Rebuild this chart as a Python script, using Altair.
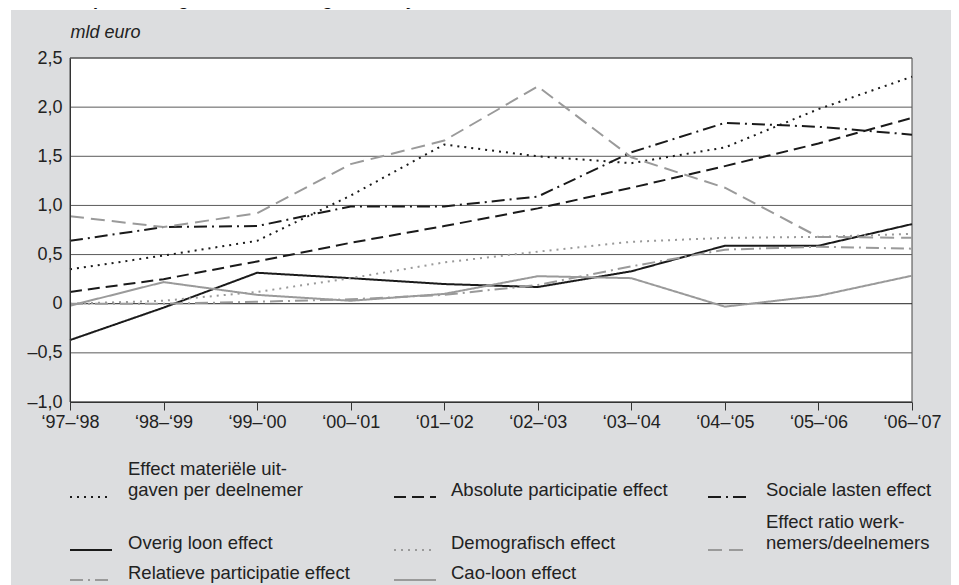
import altair as alt
import pandas as pd

# ---------------- data ----------------
periods = ["‘97–‘98", "‘98–‘99", "‘99–‘00", "‘00–‘01", "‘01–‘02",
           "‘02–‘03", "‘03–‘04", "‘04–‘05", "‘05–‘06", "‘06–‘07"]

series_names = [
    "Effect materiële uitgaven per deelnemer",
    "Absolute participatie effect",
    "Sociale lasten effect",
    "Overig loon effect",
    "Demografisch effect",
    "Effect ratio werknemers/deelnemers",
    "Relatieve participatie effect",
    "Cao-loon effect",
]

materiele = [0.35, 0.49, 0.64, 1.10, 1.62, 1.50, 1.43, 1.59, 1.98, 2.31]
absolute = [0.12, 0.25, 0.43, 0.62, 0.79, 0.97, 1.18, 1.40, 1.63, 1.89]
sociale = [0.64, 0.78, 0.79, 0.99, 0.99, 1.09, 1.54, 1.84, 1.80, 1.72]
overig = [-0.37, -0.04, 0.315, 0.26, 0.20, 0.17, 0.33, 0.59, 0.59, 0.81]
demografisch = [0.0, 0.03, 0.12, 0.26, 0.42, 0.53, 0.63, 0.67, 0.68, 0.71]
effect_ratio = [0.89, 0.78, 0.92, 1.42, 1.66, 2.21, 1.49, 1.18, 0.68, 0.67]
relatieve = [0.0, 0.0, 0.02, 0.045, 0.09, 0.19, 0.38, 0.55, 0.58, 0.56]
cao = [-0.02, 0.22, 0.09, 0.03, 0.10, 0.28, 0.26, -0.03, 0.08, 0.285]

series_values = [materiele, absolute, sociale, overig, demografisch,
                 effect_ratio, relatieve, cao]

legend_labels = [
    ["Effect materiële uit-", "gaven per deelnemer"],
    ["Absolute participatie effect"],
    ["Sociale lasten effect"],
    ["Overig loon effect"],
    ["Demografisch effect"],
    ["Effect ratio werk-", "nemers/deelnemers"],
    ["Relatieve participatie effect"],
    ["Cao-loon effect"],
]

y_ticks = [-1.0, -0.5, 0.0, 0.5, 1.0, 1.5, 2.0, 2.5]
title_text = "1. Decompositie uitgavenverandering onderwijs"
y_unit = "mld euro"

# ---------------- styles ----------------
BLACK = "#1a1a1a"
GRAY = "#9a9a9a"
BG = "#dcdddf"
FONT = "Liberation Sans"

series_colors = [BLACK, BLACK, BLACK, BLACK, GRAY, GRAY, GRAY, GRAY]
series_dashes = [[2, 5], [12, 6], [13, 5, 2, 5], [1, 0],
                 [2, 5], [14, 7], [13, 5, 2, 5], [1, 0]]

W, H = 842, 344

rows = []
for name, vals in zip(series_names, series_values):
    for p, v in zip(periods, vals):
        rows.append({"period": p, "series": name, "value": v})
df = pd.DataFrame(rows)

one = pd.DataFrame({"k": [0]})
yscale = alt.Scale(domain=[-1.0, 2.5], nice=False, zero=False)

label_expr = ("(datum.value < 0 ? '–' : '') + (datum.value == 0 ? '0' : "
              "replace(format(abs(datum.value), '.1f'), '.', ','))")


def y_axis():
    return alt.Axis(values=y_ticks, labelExpr=label_expr, title=y_unit,
                    titleAngle=0, titleAlign="left", titleX=0, titleY=-26,
                    titleBaseline="middle", titleFont=FONT, titleFontSize=18,
                    titleFontStyle="italic", titleFontWeight="normal",
                    titleColor="#222", ticks=False, labelPadding=8,
                    labelFont=FONT, labelFontSize=18, labelColor="#222",
                    grid=False, domainColor="#333", zindex=1)


title_layer = alt.Chart(one).mark_text(
    text=title_text, align="left", baseline="alphabetic", font=FONT,
    fontSize=18, fontWeight="bold", color="#111"
).encode(x=alt.value(-57), y=alt.value(-53))

bg_layer = alt.Chart(one).mark_rect(color=BG).encode(
    x=alt.value(-59), x2=alt.value(W + 300), y=alt.value(-48), y2=alt.value(H + 400)
)

plot_bg = alt.Chart(one).mark_rect(fill="white", stroke="#444", strokeWidth=1).encode(
    x=alt.value(0), x2=alt.value(W), y=alt.value(0), y2=alt.value(H)
)

grid = alt.Chart(pd.DataFrame({"v": y_ticks})).mark_rule(strokeWidth=1).encode(
    y=alt.Y("v:Q", scale=yscale, axis=y_axis()),
    color=alt.condition("datum.v == 0", alt.value("#222"), alt.value("#5a5a5a")),
)

lines = alt.Chart(df).mark_line(strokeWidth=2).encode(
    x=alt.X("period:N", sort=periods, scale=alt.Scale(padding=0),
            axis=alt.Axis(title=None, labelAngle=0, labelFont=FONT, labelFontSize=18,
                          labelColor="#222", domainColor="#333", tickColor="#333",
                          tickSize=8, labelPadding=3, grid=False, zindex=1)),
    y=alt.Y("value:Q", scale=yscale, axis=y_axis()),
    color=alt.Color("series:N", scale=alt.Scale(domain=series_names, range=series_colors),
                    legend=None),
    strokeDash=alt.StrokeDash("series:N",
                              scale=alt.Scale(domain=series_names, range=series_dashes),
                              legend=None),
)

# ---------------- manual legend (3 columns) ----------------
col_sym_x = [0, 324, 638]
sym_len = 42
col_text_x = [58, 381, 696]
row_y = [432, 485, 515]
line_gap = 21
sym_dy = 7

legend_layers = []
for i, (labels, color, dash) in enumerate(zip(legend_labels, series_colors, series_dashes)):
    c, r = i % 3, i // 3
    y = row_y[r]
    legend_layers.append(
        alt.Chart(one).mark_rule(strokeWidth=2, color=color, strokeDash=dash).encode(
            x=alt.value(col_sym_x[c]), x2=alt.value(col_sym_x[c] + sym_len),
            y=alt.value(y + sym_dy))
    )
    n = len(labels)
    for j, t in enumerate(labels):
        legend_layers.append(
            alt.Chart(one).mark_text(text=t, align="left", baseline="middle", font=FONT,
                                     fontSize=18.5, color="#222").encode(
                x=alt.value(col_text_x[c]), y=alt.value(y - (n - 1 - j) * line_gap))
        )

chart = alt.layer(title_layer, bg_layer, plot_bg, grid, lines, *legend_layers).properties(
    width=W, height=H,
    padding={"left": 62, "top": 50, "right": 39, "bottom": 183},
    autosize=alt.AutoSizeParams(type="none"),
    background="white",
).configure_view(strokeOpacity=0)

chart.save("out.html", embed_options={"renderer": "svg", "actions": False})
